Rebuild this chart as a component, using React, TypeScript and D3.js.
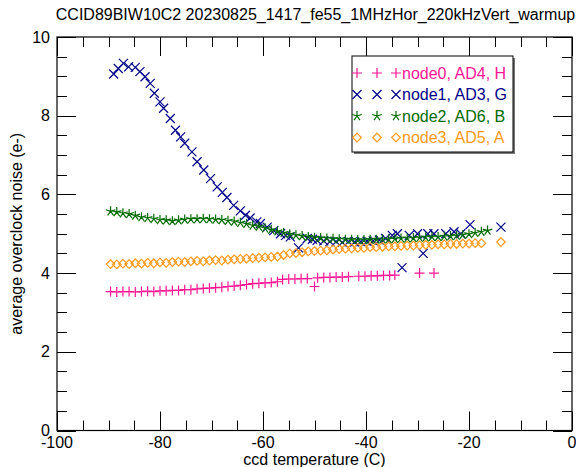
import React from "react";
import * as d3 from "d3";

const W = 576, H = 467;
const TITLE = "CCID89BIW10C2 20230825_1417_fe55_1MHzHor_220kHzVert_warmup";
const X_LABEL = "ccd temperature (C)";
const Y_LABEL = "average overclock noise (e-)";
const X_TICKS = [-100, -80, -60, -40, -20, 0];
const Y_TICKS = [0, 2, 4, 6, 8, 10];

const node0T = [-89.6,-88.4,-87.2,-86.0,-84.8,-83.6,-82.4,-81.2,-80.0,-78.8,-77.6,-76.4,-75.2,-74.0,-72.8,-71.6,-70.4,-69.2,-68.0,-66.8,-65.6,-64.4,-63.2,-62.0,-60.8,-59.6,-58.4,-57.2,-56.2,-55.0,-53.8,-52.6,-51.4,-50.0,-49.4,-48.2,-47.0,-45.8,-44.6,-43.4,-41.4,-40.2,-39.0,-37.8,-36.6,-35.4,-34.4,-29.6,-26.8];
const node0V = [3.53,3.52,3.53,3.53,3.52,3.53,3.54,3.53,3.55,3.55,3.56,3.56,3.58,3.58,3.60,3.61,3.62,3.63,3.64,3.66,3.67,3.69,3.71,3.73,3.74,3.75,3.76,3.78,3.84,3.85,3.85,3.86,3.86,3.66,3.88,3.89,3.89,3.90,3.90,3.91,3.92,3.92,3.93,3.93,3.94,3.94,3.95,4.0,4.0];

const node1T = [-89.0,-88.1,-87.1,-86.1,-84.8,-83.9,-82.9,-81.9,-81.1,-80.0,-79.3,-78.0,-77.0,-76.0,-75.2,-73.8,-72.8,-71.5,-70.2,-68.9,-67.9,-67.0,-65.7,-64.4,-63.4,-62.5,-61.2,-60.5,-59.2,-57.9,-56.6,-55.6,-54.7,-53.1,-51.4,-50.4,-49.5,-48.2,-47.0,-45.8,-44.6,-43.4,-42.2,-41.0,-39.8,-38.6,-37.4,-36.2,-34.9,-33.9,-33.0,-31.6,-30.0,-28.9,-28.0,-26.8,-24.5,-22.9,-21.6,-19.8,-13.8];
const node1V = [9.06,9.20,9.33,9.24,9.23,9.12,8.99,8.82,8.57,8.35,8.19,7.93,7.63,7.46,7.30,7.08,6.83,6.62,6.40,6.19,6.05,5.92,5.72,5.58,5.47,5.40,5.30,5.26,5.17,5.08,5.00,4.96,4.92,4.64,4.88,4.86,4.83,4.82,4.80,4.80,4.78,4.80,4.79,4.80,4.81,4.82,4.84,4.88,4.96,5.00,4.14,4.96,5.00,4.50,5.00,5.00,5.00,5.05,5.00,5.23,5.17];

const node2T = [-89.6,-88.4,-87.2,-86.0,-84.8,-83.6,-82.4,-81.2,-80.0,-78.8,-77.6,-76.4,-75.2,-74.0,-72.8,-71.6,-70.4,-69.2,-68.0,-66.8,-65.6,-64.4,-63.2,-62.0,-60.8,-59.6,-58.4,-57.2,-56.0,-54.8,-53.6,-52.4,-51.2,-50.0,-48.8,-47.6,-46.4,-45.2,-44.0,-42.8,-41.6,-40.4,-39.2,-38.0,-36.8,-35.6,-34.4,-33.2,-32.0,-30.8,-29.6,-28.4,-27.2,-26.0,-24.8,-23.6,-22.4,-21.2,-20.0,-18.8,-17.6,-16.4];
const node2V = [5.57,5.55,5.52,5.50,5.46,5.42,5.40,5.38,5.35,5.34,5.32,5.34,5.36,5.37,5.37,5.38,5.37,5.36,5.35,5.33,5.31,5.28,5.25,5.21,5.18,5.14,5.10,5.06,5.02,4.99,4.96,4.94,4.92,4.90,4.89,4.88,4.87,4.86,4.85,4.85,4.84,4.84,4.85,4.85,4.86,4.86,4.87,4.88,4.88,4.89,4.90,4.91,4.92,4.92,4.93,4.94,4.95,4.97,4.99,5.02,5.05,5.08];

const node3T = [-89.6,-88.4,-87.2,-86.0,-84.8,-83.6,-82.4,-81.2,-80.0,-78.8,-77.6,-76.4,-75.2,-74.0,-72.8,-71.6,-70.4,-69.2,-68.0,-66.8,-65.6,-64.4,-63.2,-62.0,-60.8,-59.6,-58.4,-57.2,-56.0,-54.8,-53.6,-52.4,-51.2,-50.0,-48.8,-47.6,-46.4,-45.2,-44.0,-42.8,-41.6,-40.4,-39.2,-38.0,-36.8,-35.6,-34.4,-33.2,-32.0,-30.8,-29.6,-28.4,-27.2,-26.0,-24.8,-23.6,-22.4,-21.2,-20.0,-18.8,-17.6,-13.8];
const node3V = [4.23,4.22,4.24,4.23,4.25,4.24,4.26,4.25,4.27,4.26,4.28,4.29,4.28,4.30,4.31,4.30,4.32,4.33,4.32,4.34,4.35,4.36,4.37,4.38,4.39,4.40,4.41,4.42,4.46,4.50,4.51,4.53,4.55,4.56,4.57,4.58,4.60,4.61,4.62,4.63,4.64,4.64,4.66,4.66,4.67,4.68,4.68,4.69,4.70,4.70,4.71,4.72,4.72,4.73,4.73,4.74,4.74,4.75,4.75,4.76,4.76,4.79];

const SERIES_NAMES = ["node0, AD4, H", "node1, AD3, G", "node2, AD6, B", "node3, AD5, A"];
const SERIES_COLORS = ["#ff1493", "#000088", "#006a00", "#ff9a1a"];
const SERIES_SYMBOLS = ["plus", "cross", "star", "diamond"];

const FONT = "'Liberation Sans', Arial, Helvetica, sans-serif";

function Marker({ kind, x, y, color }: { kind: string; x: number; y: number; color: string }) {
  const r = 5;
  if (kind === "plus") {
    return <path d={`M${x - r},${y}H${x + r}M${x},${y - r}V${y + r}`} stroke={color} strokeWidth={1.2} fill="none" />;
  }
  if (kind === "cross") {
    const a = 4.5;
    return <path d={`M${x - a},${y - a}L${x + a},${y + a}M${x - a},${y + a}L${x + a},${y - a}`} stroke={color} strokeWidth={1.2} fill="none" />;
  }
  if (kind === "diamond") {
    const a = 4.3;
    return <path d={`M${x},${y - a}L${x + a},${y}L${x},${y + a}L${x - a},${y}Z`} stroke={color} strokeWidth={1.2} fill="none" />;
  }
  let d = "";
  for (let i = 0; i < 5; i++) {
    const ang = (-90 + i * 72) * Math.PI / 180;
    d += `M${x},${y}L${x + r * Math.cos(ang)},${y + r * Math.sin(ang)}`;
  }
  return <path d={d} stroke={color} strokeWidth={1.2} fill="none" />;
}

export default function App() {
  const x = d3.scaleLinear().domain([-100, 0]).range([57, 572]);
  const y = d3.scaleLinear().domain([0, 10]).range([430.5, 37]);
  const left = x(-100), right = x(0), top = y(10), bottom = y(0);

  const series = [
    { t: node0T, v: node0V },
    { t: node1T, v: node1V },
    { t: node2T, v: node2V },
    { t: node3T, v: node3V },
  ];

  const xMinor = d3.range(-100, 0.01, 5);
  const yMinor = d3.range(0, 10.01, 0.5);
  const MAJ = 19, MIN = 10;

  const ticks: JSX.Element[] = [];
  xMinor.forEach((t, i) => {
    const isMaj = Math.abs(t % 20) < 1e-6;
    const L = isMaj ? MAJ : MIN;
    const px = Math.round(x(t)) + 0.5;
    ticks.push(<line key={`xb${i}`} x1={px} x2={px} y1={bottom} y2={bottom - L} stroke="#000" />);
    ticks.push(<line key={`xt${i}`} x1={px} x2={px} y1={top} y2={top + L} stroke="#000" />);
  });
  yMinor.forEach((t, i) => {
    const isMaj = Math.abs(t % 2) < 1e-6;
    const L = isMaj ? MAJ : MIN;
    const py = Math.round(y(t)) + 0.5;
    ticks.push(<line key={`yl${i}`} x1={left} x2={left + L} y1={py} y2={py} stroke="#000" />);
    ticks.push(<line key={`yr${i}`} x1={right} x2={right - L} y1={py} y2={py} stroke="#000" />);
  });

  const lgX = 352, lgY = 56, lgW = 161, lgH = 96;
  const rowY = [73, 94.5, 116, 137.5];
  const symX = [357, 377, 396];

  return (
    <svg width={W} height={H} style={{ position: "absolute", left: 0, top: 0 }} fontFamily={FONT}>
      <rect width={W} height={H} fill="#fff" />
      <text x={(left + right) / 2 + 1} y={20} textAnchor="middle" fontSize={16}>{TITLE}</text>

      {series.map((s, si) =>
        s.t.map((t, i) => (
          <Marker key={`m${si}-${i}`} kind={SERIES_SYMBOLS[si]} x={x(t)} y={y(s.v[i])} color={SERIES_COLORS[si]} />
        ))
      )}

      <rect x={left} y={top} width={right - left} height={bottom - top} fill="none" stroke="#000" strokeWidth={1.2} />
      {ticks}

      {X_TICKS.map((t) => (
        <text key={`xl${t}`} x={x(t)} y={448} textAnchor="middle" fontSize={16}>{t}</text>
      ))}
      {Y_TICKS.map((t) => (
        <text key={`yl${t}`} x={50} y={y(t) + 5.5} textAnchor="end" fontSize={16}>{t}</text>
      ))}

      <text x={(left + right) / 2} y={465} textAnchor="middle" fontSize={16}>{X_LABEL}</text>
      <text transform={`translate(22,${(top + bottom) / 2}) rotate(-90)`} textAnchor="middle" fontSize={16}>{Y_LABEL}</text>

      <rect x={lgX + 2} y={lgY + 2} width={lgW} height={lgH} fill="#777" />
      <rect x={lgX} y={lgY} width={lgW} height={lgH} fill="#fff" stroke="#000" strokeWidth={1} />
      {SERIES_NAMES.map((n, i) => (
        <g key={`lg${i}`}>
          {symX.map((sx, j) => (
            <Marker key={j} kind={SERIES_SYMBOLS[i]} x={sx} y={rowY[i]} color={SERIES_COLORS[i]} />
          ))}
          <text x={402} y={rowY[i] + 5.8} fontSize={16} fill={SERIES_COLORS[i]}>{n}</text>
        </g>
      ))}
    </svg>
  );
}
